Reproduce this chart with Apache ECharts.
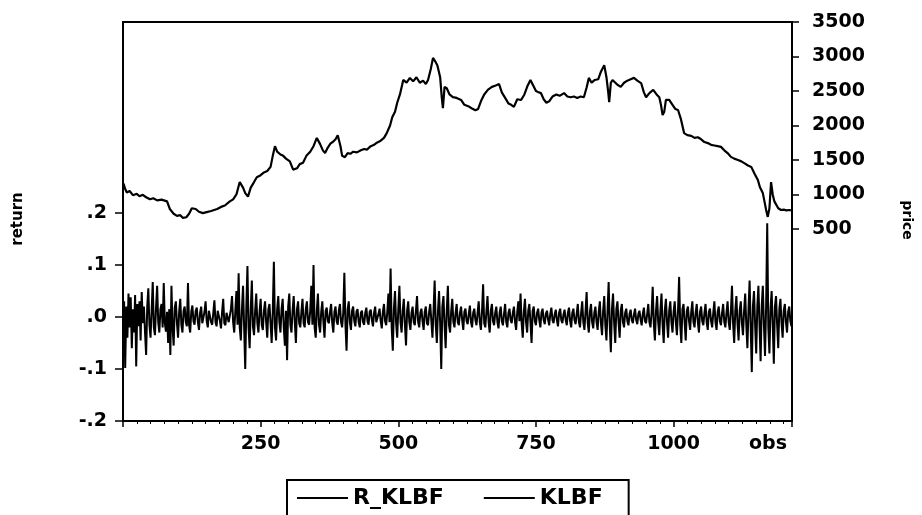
<!DOCTYPE html>
<html>
<head>
<meta charset="utf-8">
<title>R_KLBF and KLBF</title>
<script src="https://cdn.jsdelivr.net/npm/echarts@6/dist/echarts.min.js"></script>
<style>
  html, body { margin: 0; padding: 0; background: #fff; }
  #chart { width: 922px; height: 515px; }
</style>
</head>
<body>
<div id="chart"></div>
<script>
// Observation axis
const obsMin = 0;
const obsMax = 1215;
const obsTicks = [250, 500, 750, 1000];

// KLBF price, read at turning points (observation number, price)
const priceObs = [
  1, 4, 7, 12, 18, 25, 30, 36, 42, 49, 55, 62, 70, 80, 85, 92, 98, 104, 109, 115,
  120, 125, 132, 138, 145, 152, 160, 171, 178, 185, 194, 200, 206, 212, 218, 222, 227, 232, 238, 243,
  250, 256, 262, 268, 272, 276, 280, 286, 291, 296, 303, 309, 316, 321, 327, 333, 340, 346, 352, 358,
  363, 367, 372, 377, 381, 386, 390, 395, 398, 403, 408, 413, 418, 425, 432, 438, 443, 450, 456, 461,
  468, 474, 479, 485, 489, 494, 498, 503, 509, 515, 521, 527, 533, 539, 545, 550, 554, 559, 563, 567,
  571, 576, 579, 581, 584, 588, 593, 599, 606, 614, 620, 627, 633, 640, 645, 650, 656, 663, 670, 677,
  683, 688, 694, 700, 705, 710, 716, 723, 729, 735, 740, 745, 750, 755, 759, 764, 769, 774, 780, 787,
  793, 801, 807, 813, 819, 825, 831, 837, 842, 846, 851, 857, 863, 868, 874, 878, 881, 883, 886, 889,
  892, 898, 904, 910, 916, 922, 928, 934, 941, 946, 950, 956, 963, 969, 974, 977, 980, 983, 986, 992,
  998, 1003, 1008, 1013, 1019, 1025, 1032, 1038, 1044, 1050, 1056, 1062, 1068, 1074, 1080, 1086, 1092, 1098, 1104, 1110,
  1117, 1123, 1129, 1135, 1141, 1147, 1153, 1157, 1162, 1165, 1168, 1171, 1174, 1177, 1180, 1183, 1186, 1190, 1195, 1200,
  1205, 1210, 1213
];
const priceVals = [
  1160, 1080, 1030, 1050, 990, 1010, 975, 995, 960, 930, 945, 915, 925, 900, 790, 720, 690, 700, 660, 670,
  720, 800, 790, 750, 730, 745, 760, 790, 820, 840, 900, 930, 1000, 1180, 1100, 1020, 970, 1100, 1180, 1250,
  1280, 1320, 1340, 1400, 1560, 1700, 1620, 1580, 1560, 1520, 1480, 1360, 1380, 1440, 1460, 1560, 1620, 1700, 1820, 1730,
  1640, 1600, 1680, 1740, 1760, 1800, 1860, 1700, 1560, 1540, 1600, 1590, 1620, 1610, 1640, 1660, 1650, 1700, 1720, 1750,
  1780, 1820, 1890, 2000, 2120, 2200, 2330, 2450, 2660, 2620, 2690, 2640, 2700, 2620, 2650, 2600, 2660, 2820, 2980, 2930,
  2870, 2700, 2400, 2250, 2560, 2540, 2450, 2410, 2400, 2370, 2300, 2280, 2250, 2220, 2240, 2350, 2450, 2520, 2560, 2580,
  2600, 2480, 2400, 2320, 2300, 2270, 2380, 2370, 2450, 2580, 2660, 2580, 2500, 2480, 2470, 2380, 2330, 2350, 2420, 2450,
  2430, 2470, 2420, 2410, 2420, 2400, 2420, 2410, 2550, 2690, 2620, 2660, 2670, 2780, 2875, 2700, 2500, 2340, 2620, 2660,
  2640, 2590, 2560, 2620, 2650, 2670, 2690, 2650, 2615, 2480, 2410, 2470, 2515, 2450, 2410, 2300, 2150, 2200, 2370, 2370,
  2300, 2240, 2225, 2100, 1890, 1860, 1850, 1820, 1830, 1800, 1760, 1745, 1720, 1710, 1700, 1690, 1640, 1600, 1545, 1520,
  1500, 1480, 1450, 1420, 1400, 1300, 1210, 1100, 1020, 900, 775, 675, 800, 1180, 1000, 900, 875, 800, 775, 780,
  770, 775, 770
];

// R_KLBF return, one reading every 2 observations starting at observation 2
const retStart = 2;
const retStep = 2;
const retVals = [
  0.03, -0.098, 0.02, -0.04, 0.045, -0.02, 0.038, -0.06, 0.015, -0.03, 0.042, -0.095, 0.025, -0.018, 0.03, -0.045, 0.048, -0.012, 0.02, -0.03,
  -0.073, 0.02, 0.055, -0.015, -0.04, 0.012, 0.067, -0.02, -0.035, 0.018, 0.06, -0.01, -0.03, 0.015, 0.025, -0.02, 0.065, -0.012, -0.028, 0.01,
  -0.05, 0.015, -0.073, 0.06, -0.02, -0.055, 0.018, 0.03, -0.012, -0.04, 0.01, 0.035, -0.015, -0.03, 0.012, 0.02, -0.01, -0.018, 0.065, -0.015,
  -0.03, 0.01, 0.022, -0.008, -0.015, 0.012, 0.018, -0.01, -0.025, 0.008, 0.02, -0.012, -0.012, 0.01, 0.03, -0.008, -0.02, 0.012, 0.015, -0.01,
  -0.015, 0.008, 0.032, -0.01, -0.018, 0.012, 0.012, -0.008, -0.022, 0.01, 0.035, -0.012, -0.016, 0.008, 0.01, -0.01, -0.012, 0.015, 0.04, -0.01,
  -0.03, 0.012, 0.05, -0.015, 0.084, -0.02, -0.045, 0.015, 0.06, -0.02, -0.10, 0.02, 0.098, -0.02, -0.06, 0.015, 0.07, -0.018, -0.035, 0.012,
  0.045, -0.012, -0.03, 0.01, 0.035, -0.015, -0.025, 0.012, 0.03, -0.01, -0.04, 0.015, 0.025, -0.012, -0.05, 0.01, 0.106, -0.02, -0.045, 0.015,
  0.04, -0.01, -0.03, 0.015, 0.035, -0.02, -0.055, 0.012, -0.083, 0.02, 0.045, -0.015, -0.03, 0.012, 0.04, -0.01, -0.05, 0.015, 0.03, -0.012,
  -0.02, 0.01, 0.035, -0.012, -0.02, 0.015, 0.03, -0.01, -0.015, 0.012, 0.06, -0.015, 0.10, -0.02, -0.04, 0.012, 0.045, -0.015, -0.03, 0.01,
  0.03, -0.01, -0.04, 0.012, 0.018, -0.008, -0.012, 0.01, 0.025, -0.012, -0.03, 0.01, 0.02, -0.008, -0.015, 0.012, 0.025, -0.01, -0.02, 0.008,
  0.085, -0.015, -0.065, 0.015, 0.03, -0.01, -0.025, 0.012, 0.02, -0.008, -0.018, 0.01, 0.015, -0.01, -0.02, 0.008, 0.012, -0.01, -0.015, 0.008,
  0.018, -0.008, -0.015, 0.01, 0.014, -0.006, -0.018, 0.008, 0.02, -0.01, -0.012, 0.006, 0.016, -0.008, -0.022, 0.01, 0.025, -0.008, -0.016, 0.01,
  0.045, -0.01, 0.093, -0.02, -0.065, 0.015, 0.05, -0.012, -0.04, 0.015, 0.06, -0.01, -0.03, 0.012, 0.035, -0.015, -0.055, 0.012, 0.03, -0.01,
  -0.025, 0.008, 0.02, -0.01, -0.016, 0.012, 0.04, -0.01, -0.02, 0.008, 0.016, -0.008, -0.025, 0.01, 0.02, -0.012, -0.016, 0.01, 0.025, -0.008,
  -0.04, 0.012, 0.07, -0.015, -0.05, 0.01, 0.05, -0.012, -0.10, 0.02, 0.04, -0.015, -0.06, 0.012, 0.06, -0.015, -0.03, 0.01, 0.035, -0.01,
  -0.02, 0.008, 0.025, -0.01, -0.016, 0.008, 0.02, -0.006, -0.025, 0.01, 0.016, -0.008, -0.014, 0.006, 0.022, -0.01, -0.02, 0.008, 0.016, -0.006,
  -0.016, 0.008, 0.03, -0.01, -0.025, 0.01, 0.063, -0.012, -0.02, 0.01, 0.04, -0.01, -0.03, 0.012, 0.025, -0.008, -0.016, 0.008, 0.02, -0.01,
  -0.022, 0.008, 0.02, -0.008, -0.016, 0.006, 0.025, -0.01, -0.02, 0.008, 0.016, -0.006, -0.012, 0.008, 0.02, -0.01, -0.025, 0.01, 0.03, -0.008,
  0.045, -0.012, -0.04, 0.01, 0.035, -0.01, -0.03, 0.012, 0.025, -0.01, -0.05, 0.012, 0.02, -0.008, -0.016, 0.008, 0.016, -0.006, -0.02, 0.008,
  0.016, -0.006, -0.014, 0.006, 0.012, -0.005, -0.016, 0.006, 0.018, -0.006, -0.012, 0.005, 0.014, -0.006, -0.018, 0.008, 0.016, -0.006, -0.012, 0.005,
  0.014, -0.006, -0.016, 0.008, 0.018, -0.008, -0.02, 0.008, 0.016, -0.006, -0.014, 0.006, 0.025, -0.01, -0.02, 0.008, 0.03, -0.01, -0.025, 0.01,
  0.048, -0.012, -0.03, 0.01, 0.025, -0.01, -0.022, 0.008, 0.02, -0.01, -0.025, 0.01, 0.03, -0.012, -0.035, 0.012, 0.04, -0.015, -0.045, 0.012,
  0.067, -0.015, -0.068, 0.015, 0.045, -0.012, -0.05, 0.015, 0.03, -0.01, -0.04, 0.012, 0.025, -0.01, -0.02, 0.008, 0.016, -0.008, -0.016, 0.006,
  0.014, -0.006, -0.012, 0.005, 0.016, -0.006, -0.014, 0.006, 0.012, -0.005, -0.016, 0.006, 0.018, -0.008, -0.012, 0.006, 0.025, -0.01, -0.02, 0.008,
  0.058, -0.012, -0.045, 0.012, 0.04, -0.01, -0.035, 0.012, 0.045, -0.015, -0.05, 0.012, 0.035, -0.01, -0.04, 0.012, 0.03, -0.01, -0.03, 0.01,
  0.03, -0.01, -0.035, 0.012, 0.077, -0.015, -0.05, 0.015, 0.025, -0.01, -0.045, 0.012, 0.02, -0.008, -0.025, 0.01, 0.03, -0.01, -0.02, 0.008,
  0.025, -0.01, -0.03, 0.01, 0.02, -0.008, -0.016, 0.008, 0.025, -0.01, -0.025, 0.01, 0.016, -0.008, -0.02, 0.008, 0.03, -0.01, -0.025, 0.01,
  0.02, -0.008, -0.016, 0.008, 0.025, -0.01, -0.02, 0.008, 0.03, -0.01, -0.025, 0.01, 0.06, -0.012, -0.05, 0.012, 0.04, -0.012, -0.045, 0.012,
  0.03, -0.012, -0.035, 0.012, 0.045, -0.015, -0.06, 0.015, 0.07, -0.02, -0.106, 0.02, 0.05, -0.015, -0.07, 0.02, 0.06, -0.015, -0.085, 0.02,
  0.06, -0.015, -0.075, 0.02, 0.18, -0.02, -0.07, 0.015, 0.05, -0.015, -0.09, 0.02, 0.04, -0.015, -0.06, 0.015, 0.035, -0.012, -0.04, 0.012,
  0.025, -0.01, -0.03, 0.01, 0.02, -0.008, -0.018
];

// Scale ticks shown on each side
const retTicks = [-0.2, -0.1, 0, 0.1, 0.2];
const priceTicks = [500, 1000, 1500, 2000, 2500, 3000, 3500];

// Axis extents: returns occupy the lower band, prices the upper band of the shared frame
const retAxisMin = -0.2, retAxisMax = 0.567;
const priceAxisMin = -2283, priceAxisMax = 3500;

const seriesNames = ['R_KLBF', 'KLBF'];
const leftTitle = 'return';
const rightTitle = 'price';
const obsTitle = 'obs';

const priceData = priceObs.map((o, i) => [o, priceVals[i]]);
const retData = retVals.map((v, i) => [retStart + i * retStep, v]);

const FONT = 'DejaVu Sans';
function labelStyle(margin) {
  return { color: '#000', fontFamily: FONT, fontWeight: 'bold', fontSize: 19, margin };
}

const chart = echarts.init(document.getElementById('chart'));

chart.setOption({
  backgroundColor: '#fff',
  animation: false,
  grid: { left: 123, right: 130, top: 22, bottom: 94, show: true, borderColor: '#000', borderWidth: 2 },
  xAxis: {
    type: 'value', min: obsMin, max: obsMax, interval: 250,
    axisLine: { show: true, onZero: false, lineStyle: { color: '#000', width: 2 } },
    axisTick: { show: true, length: 6, lineStyle: { color: '#000', width: 1.5 } },
    minorTick: { show: true, splitNumber: 10, length: 3, lineStyle: { color: '#000', width: 1 } },
    axisLabel: {
      ...labelStyle(14), showMinLabel: false, showMaxLabel: false,
      formatter: v => (obsTicks.indexOf(v) >= 0 ? String(v) : '')
    },
    splitLine: { show: false }
  },
  yAxis: [
    {
      type: 'value', position: 'left', min: retAxisMin, max: retAxisMax,
      axisLine: { show: true, onZero: false, lineStyle: { color: '#000', width: 2 } },
      axisTick: { show: true, length: 8, customValues: retTicks, lineStyle: { color: '#000', width: 1.5 } },
      axisLabel: { ...labelStyle(16), customValues: retTicks, formatter: v => v.toFixed(1).replace('0.', '.') },
      splitLine: { show: false }
    },
    {
      type: 'value', position: 'right', min: priceAxisMin, max: priceAxisMax,
      axisLine: { show: true, onZero: false, lineStyle: { color: '#000', width: 2 } },
      axisTick: { show: true, length: 7, customValues: priceTicks, lineStyle: { color: '#000', width: 1.5 } },
      axisLabel: { ...labelStyle(20), customValues: priceTicks, formatter: v => String(v) },
      splitLine: { show: false }
    }
  ],
  legend: {
    data: seriesNames.map(name => ({ name, icon: 'rect' })),
    left: 287, top: 480,
    orient: 'horizontal',
    padding: [7, 26, 20, 10],
    itemGap: 40,
    itemWidth: 51,
    itemHeight: 2,
    borderColor: '#000', borderWidth: 2, borderRadius: 0,
    backgroundColor: '#fff',
    itemStyle: { color: '#000', borderWidth: 0 },
    textStyle: { color: '#000', fontFamily: FONT, fontWeight: 'bold', fontSize: 22 }
  },
  graphic: [
    { type: 'text', x: 18, y: 219, rotation: Math.PI / 2,
      style: { text: leftTitle, fill: '#000', font: 'bold 15px "DejaVu Sans"', align: 'center', verticalAlign: 'middle' } },
    { type: 'text', x: 907, y: 220, rotation: -Math.PI / 2,
      style: { text: rightTitle, fill: '#000', font: 'bold 14px "DejaVu Sans"', align: 'center', verticalAlign: 'middle' } },
    { type: 'text', x: 768, y: 444,
      style: { text: obsTitle, fill: '#000', font: 'bold 19px "DejaVu Sans"', align: 'center', verticalAlign: 'middle' } }
  ],
  series: [
    {
      name: seriesNames[0], type: 'line', yAxisIndex: 0,
      data: retData, symbol: 'none',
      lineStyle: { color: '#000', width: 2 }, itemStyle: { color: '#000' }
    },
    {
      name: seriesNames[1], type: 'line', yAxisIndex: 1,
      data: priceData, symbol: 'none',
      lineStyle: { color: '#000', width: 2.2 }, itemStyle: { color: '#000' }
    }
  ]
});
</script>
</body>
</html>
